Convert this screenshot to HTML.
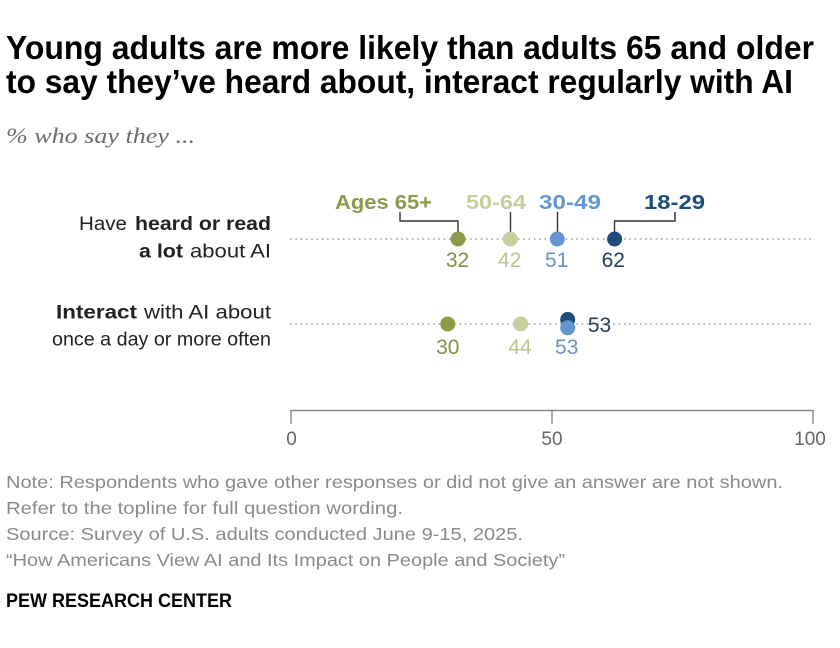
<!DOCTYPE html>
<html><head><meta charset="utf-8"><style>
html,body{margin:0;padding:0;background:#fff;}
svg{display:block;}
text{font-family:"Liberation Sans",sans-serif;}
</style></head><body>
<svg width="840" height="648" viewBox="0 0 840 648" xmlns="http://www.w3.org/2000/svg">
<rect width="840" height="648" fill="#fff"/>
<!-- Title -->
<text x="6" y="59" font-size="33" font-weight="bold" fill="#000" textLength="808" lengthAdjust="spacingAndGlyphs">Young adults are more likely than adults 65 and older</text>
<text x="6" y="93" font-size="33" font-weight="bold" fill="#000" textLength="787" lengthAdjust="spacingAndGlyphs">to say they’ve heard about, interact regularly with AI</text>
<text x="6" y="143" font-size="22" font-style="italic" fill="#6e6e6e" style="font-family:'Liberation Serif',serif" textLength="189" lengthAdjust="spacingAndGlyphs">% who say they ...</text>

<!-- Category labels -->
<g font-size="19" fill="#222">
<text x="79" y="230" textLength="48" lengthAdjust="spacingAndGlyphs">Have</text>
<text x="135" y="230" font-weight="bold" textLength="136" lengthAdjust="spacingAndGlyphs">heard or read</text>
<text x="139" y="257.5" font-weight="bold" textLength="44" lengthAdjust="spacingAndGlyphs">a lot</text>
<text x="190" y="257.5" textLength="81" lengthAdjust="spacingAndGlyphs">about AI</text>
<text x="56" y="318.5" font-weight="bold" textLength="81" lengthAdjust="spacingAndGlyphs">Interact</text>
<text x="144" y="318.5" textLength="127" lengthAdjust="spacingAndGlyphs">with AI about</text>
<text x="52" y="345.5" textLength="219" lengthAdjust="spacingAndGlyphs">once a day or more often</text>
</g>

<!-- Dotted lines -->
<line x1="290" y1="239" x2="815" y2="239" stroke="#a0a0a0" stroke-width="1.6" stroke-dasharray="1.6 3.7"/>
<line x1="290" y1="324" x2="815" y2="324" stroke="#a0a0a0" stroke-width="1.6" stroke-dasharray="1.6 3.7"/>

<!-- Legend labels -->
<g font-size="20" font-weight="bold">
<text x="335" y="209" fill="#8d9a4c" textLength="97" lengthAdjust="spacingAndGlyphs">Ages 65+</text>
<text x="466" y="209" fill="#c6cf9a" textLength="60" lengthAdjust="spacingAndGlyphs">50-64</text>
<text x="539" y="209" fill="#6496cf" textLength="62" lengthAdjust="spacingAndGlyphs">30-49</text>
<text x="644" y="209" fill="#1f4b7a" textLength="61" lengthAdjust="spacingAndGlyphs">18-29</text>
</g>

<!-- Leader lines -->
<g stroke="#333" stroke-width="1.4" fill="none">
<polyline points="400,212 400,221 458,221 458,232"/>
<line x1="510.5" y1="212" x2="510.5" y2="232"/>
<line x1="557.5" y1="212" x2="557.5" y2="232"/>
<polyline points="675,212 675,221 614.5,221 614.5,232"/>
</g>

<!-- Row 1 dots -->
<circle cx="458" cy="239" r="7.5" fill="#8d9a4c"/>
<circle cx="510.3" cy="239" r="7.5" fill="#c6cf9a"/>
<circle cx="557.3" cy="239" r="7.5" fill="#6496cf"/>
<circle cx="614.6" cy="239" r="7.5" fill="#1f4b7a"/>

<!-- Row 2 dots -->
<circle cx="447.7" cy="324" r="7.5" fill="#8d9a4c"/>
<circle cx="520.7" cy="324" r="7.5" fill="#c6cf9a"/>
<circle cx="567.7" cy="319.5" r="7.5" fill="#1f4b7a"/>
<circle cx="567.7" cy="327.8" r="7.5" fill="#6496cf"/>

<!-- Value labels -->
<g font-size="21" text-anchor="middle">
<text x="457.5" y="267" fill="#828f47">32</text>
<text x="509.7" y="267" fill="#bcc590">42</text>
<text x="556.7" y="267" fill="#6a92c2">51</text>
<text x="613.3" y="267" fill="#213f60">62</text>
<text x="447.8" y="354" fill="#828f47">30</text>
<text x="520" y="354" fill="#bcc590">44</text>
<text x="566.7" y="354" fill="#6a92c2">53</text>
<text x="599.5" y="332" fill="#213f60">53</text>
</g>

<!-- Axis -->
<g stroke="#888" stroke-width="1.4" fill="none">
<line x1="291" y1="410.5" x2="813" y2="410.5"/>
<line x1="291" y1="410" x2="291" y2="424"/>
<line x1="552" y1="410" x2="552" y2="424"/>
<line x1="813" y1="410" x2="813" y2="424"/>
</g>
<g font-size="19" fill="#666" text-anchor="middle">
<text x="291.5" y="445">0</text>
<text x="552" y="445">50</text>
<text x="810" y="445">100</text>
</g>

<!-- Footer -->
<g font-size="17.5" fill="#8a8a8a">
<text x="6" y="488" textLength="777" lengthAdjust="spacingAndGlyphs">Note: Respondents who gave other responses or did not give an answer are not shown.</text>
<text x="6" y="514" textLength="397" lengthAdjust="spacingAndGlyphs">Refer to the topline for full question wording.</text>
<text x="6" y="540" textLength="517" lengthAdjust="spacingAndGlyphs">Source: Survey of U.S. adults conducted June 9-15, 2025.</text>
<text x="6" y="566" textLength="559" lengthAdjust="spacingAndGlyphs">“How Americans View AI and Its Impact on People and Society”</text>
</g>
<text x="6" y="607" font-size="19.5" font-weight="bold" fill="#000" textLength="226" lengthAdjust="spacingAndGlyphs">PEW RESEARCH CENTER</text>
</svg>
</body></html>
